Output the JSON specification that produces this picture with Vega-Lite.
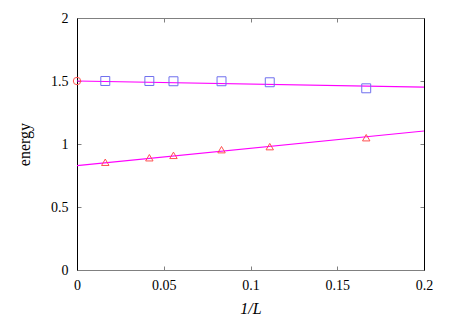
{
  "$schema": "https://vega.github.io/schema/vega-lite/v6.json",
  "width": 347,
  "height": 252,
  "autosize": "none",
  "padding": {"left": 77, "top": 18, "right": 26, "bottom": 45},
  "background": "white",
  "config": {
    "view": {"stroke": null},
    "font": "Liberation Serif",
    "axis": {
      "grid": false,
      "labelFont": "Liberation Serif",
      "titleFont": "Liberation Serif",
      "labelFontSize": 14,
      "titleFontSize": 16,
      "titleFontWeight": "normal",
      "labelColor": "black",
      "titleColor": "black",
      "tickColor": "#808080",
      "tickSize": -4,
      "tickWidth": 1
    }
  },
  "datasets": {
    "fit": [
      {"series": "upper", "x": 0, "y": 1.5},
      {"series": "upper", "x": 0.2, "y": 1.452},
      {"series": "lower", "x": 0, "y": 0.828},
      {"series": "lower", "x": 0.2, "y": 1.103}
    ],
    "squares": [
      {"x": 0.0163, "y": 1.5},
      {"x": 0.0417, "y": 1.5},
      {"x": 0.0556, "y": 1.498},
      {"x": 0.0833, "y": 1.498},
      {"x": 0.1111, "y": 1.49},
      {"x": 0.1667, "y": 1.442}
    ],
    "triangles": [
      {"x": 0.0163, "y": 0.855},
      {"x": 0.0417, "y": 0.891},
      {"x": 0.0556, "y": 0.91},
      {"x": 0.0833, "y": 0.955},
      {"x": 0.1111, "y": 0.979},
      {"x": 0.1667, "y": 1.05}
    ],
    "extrap": [
      {"x": 0, "y": 1.5}
    ]
  },
  "layer": [
    {
      "data": {"name": "fit"},
      "mark": {"type": "line", "color": "#ff00ff", "strokeWidth": 1.2, "clip": true},
      "encoding": {
        "x": {
          "field": "x", "type": "quantitative",
          "scale": {"domain": [0, 0.2], "nice": false, "zero": false},
          "axis": {
            "orient": "bottom", "title": "1/L", "titleFontStyle": "italic",
            "labelFont": "Liberation Serif", "titleFont": "Liberation Serif",
            "values": [0, 0.05, 0.1, 0.15, 0.2], "format": "~g",
            "domainColor": "#808080", "labelPadding": 12, "titlePadding": 8,
            "labelFlush": false
          }
        },
        "y": {
          "field": "y", "type": "quantitative",
          "scale": {"domain": [0, 2], "nice": false, "zero": false},
          "axis": {
            "orient": "left", "title": "energy",
            "labelFont": "Liberation Serif", "titleFont": "Liberation Serif",
            "values": [0, 0.5, 1, 1.5, 2], "format": "~g",
            "domainColor": "black", "labelPadding": 13, "titlePadding": 18,
            "labelFlush": false
          }
        },
        "detail": {"field": "series"}
      }
    },
    {
      "data": {"name": "squares"},
      "mark": {"type": "point", "shape": "square", "filled": false, "size": 80, "color": "#6f6fee", "strokeWidth": 1, "opacity": 1},
      "encoding": {
        "x": {"field": "x", "type": "quantitative", "axis": null},
        "y": {"field": "y", "type": "quantitative", "axis": null}
      }
    },
    {
      "data": {"name": "triangles"},
      "mark": {"type": "point", "shape": "triangle-up", "filled": false, "size": 55, "color": "#ff5050", "strokeWidth": 1, "opacity": 1},
      "encoding": {
        "x": {"field": "x", "type": "quantitative", "axis": null},
        "y": {"field": "y", "type": "quantitative", "axis": null}
      }
    },
    {
      "data": {"name": "extrap"},
      "mark": {"type": "point", "shape": "circle", "filled": false, "size": 55, "color": "#ff5050", "strokeWidth": 1, "opacity": 1},
      "encoding": {
        "x": {
          "field": "x", "type": "quantitative",
          "axis": {"orient": "top", "title": null, "labels": false, "values": [0, 0.05, 0.1, 0.15, 0.2], "domainColor": "#808080"}
        },
        "y": {
          "field": "y", "type": "quantitative",
          "axis": {"orient": "right", "title": null, "labels": false, "values": [0, 0.5, 1, 1.5, 2], "domainColor": "black"}
        }
      }
    }
  ],
  "resolve": {"axis": {"x": "independent", "y": "independent"}}
}
